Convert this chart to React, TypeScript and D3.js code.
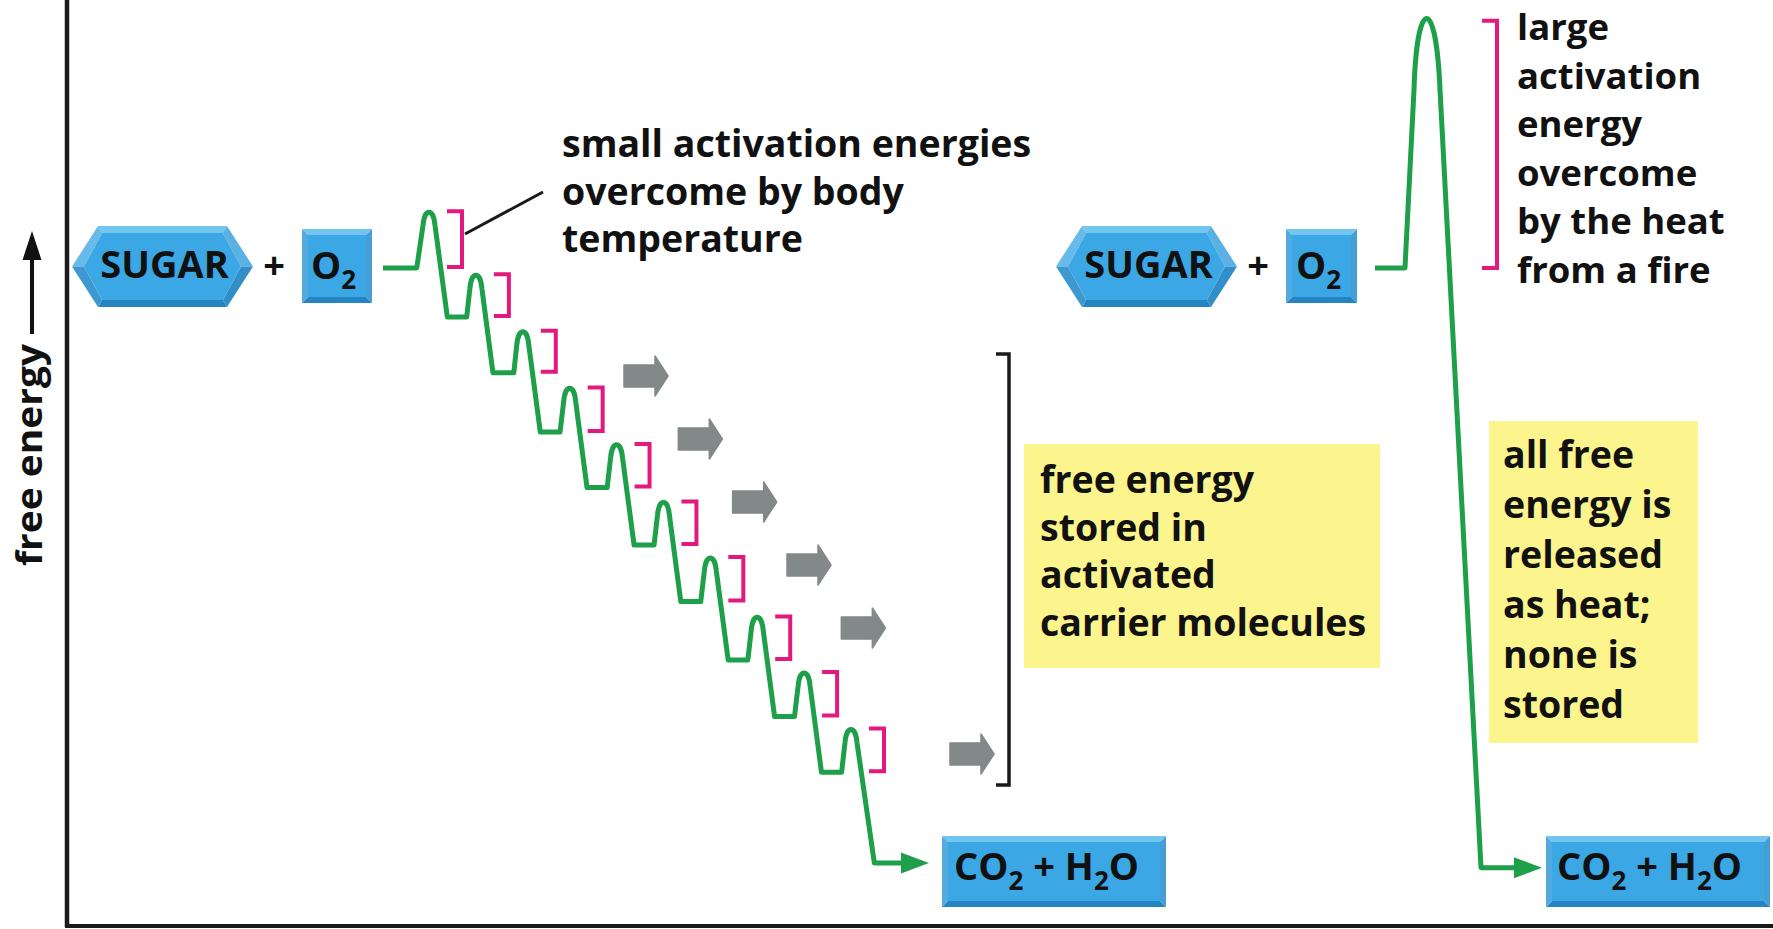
import React from 'react';
import * as d3 from 'd3';

const W = 1773;
const H = 929;

// free energy (0 = baseline axis, 100 = top of panel)
const pathwayLevels = [71.1, 65.8, 59.8, 53.4, 47.4, 41.2, 35.1, 28.8, 22.7, 16.7, 6.9];
const pathwayPeaks = [77.1, 70.3, 64.2, 58.1, 52.0, 45.8, 39.8, 33.4, 27.4, 21.3];
const burnLevels = [71.1, 6.4];
const burnPeak = 98.2;
const carrierArrowSteps = [0, 1, 2, 3, 4, 6];

const axisLabel = 'free energy';
const reactantLabel = 'SUGAR';
const calloutSmall = ['small activation energies', 'overcome by body', 'temperature'];
const calloutStored = ['free energy', 'stored in', 'activated', 'carrier molecules'];
const calloutLarge = ['large', 'activation', 'energy', 'overcome', 'by the heat', 'from a fire'];
const calloutHeat = ['all free', 'energy is', 'released', 'as heat;', 'none is', 'stored'];

const FONT = "'Open Sans', 'DejaVu Sans', sans-serif";
const GREEN = '#1E9F4A';
const PINK = '#E2197E';
const GRAY = '#838888';
const YELLOW = '#FCF48D';
const BLUE = '#3BA7E4';
const BLUE_LIGHT = '#7ACBF5';
const BLUE_DARK = '#1E7EBE';

const yE = d3.scaleLinear().domain([0, 100]).range([927, 0]);
const xStep = d3.scaleLinear().domain([0, pathwayPeaks.length - 1]).range([429, 851]);
const xArrow = d3.scaleLinear().domain([0, 6]).range([645, 971]);
const yArrow = d3.scaleLinear().domain([0, 6]).range([376, 754]);
const shade = d3.interpolateRgb(BLUE_DARK, BLUE_LIGHT);

type Pt = [number, number];

function Bevel({ outer, inner }: { outer: Pt[]; inner: Pt[] }) {
  const n = outer.length;
  const facets = outer.map((a, k) => {
    const b = outer[(k + 1) % n];
    const ib = inner[(k + 1) % n];
    const ia = inner[k];
    const dx = b[0] - a[0];
    const dy = b[1] - a[1];
    const len = Math.hypot(dx, dy) || 1;
    const nx = dy / len;
    const ny = -dx / len;
    const bright = -ny * 0.85 - nx * 0.15;
    const col = shade((bright + 1) / 2);
    return <polygon key={k} points={[a, b, ib, ia].map((p) => p.join(',')).join(' ')} fill={col} />;
  });
  return (
    <g>
      {facets}
      <polygon points={inner.map((p) => p.join(',')).join(' ')} fill={BLUE} />
    </g>
  );
}

function Hexagon({ x0, x1, y0, y1, label }: { x0: number; x1: number; y0: number; y1: number; label: string }) {
  const t = 26;
  const cy = (y0 + y1) / 2;
  const i = 7;
  const outer: Pt[] = [
    [x0, cy], [x0 + t, y0], [x1 - t, y0], [x1, cy], [x1 - t, y1], [x0 + t, y1],
  ];
  const inner: Pt[] = [
    [x0 + i * 1.7, cy], [x0 + t + i * 0.6, y0 + i], [x1 - t - i * 0.6, y0 + i],
    [x1 - i * 1.7, cy], [x1 - t - i * 0.6, y1 - i], [x0 + t + i * 0.6, y1 - i],
  ];
  return (
    <g>
      <Bevel outer={outer} inner={inner} />
      <text x={(x0 + x1) / 2 + 2} y={278} textAnchor="middle" fontFamily={FONT} fontWeight={700} fontSize={38} fill="#111">
        {label}
      </text>
    </g>
  );
}

function BoxBevel({ x, y, w, h, children }: { x: number; y: number; w: number; h: number; children?: React.ReactNode }) {
  const i = 6;
  const outer: Pt[] = [[x, y], [x + w, y], [x + w, y + h], [x, y + h]];
  const inner: Pt[] = [[x + i, y + i], [x + w - i, y + i], [x + w - i, y + h - i], [x + i, y + h - i]];
  return (
    <g>
      <Bevel outer={outer} inner={inner} />
      {children}
    </g>
  );
}

function ProductText({ x, y }: { x: number; y: number }) {
  return (
    <text x={x} y={y} fontFamily={FONT} fontWeight={700} fontSize={38} fill="#111">
      <tspan>CO</tspan>
      <tspan dy={10} fontSize={26}>2</tspan>
      <tspan dy={-10}> + H</tspan>
      <tspan dy={10} fontSize={26}>2</tspan>
      <tspan dy={-10}>O</tspan>
    </text>
  );
}

function O2Text({ x, y }: { x: number; y: number }) {
  return (
    <text x={x} y={y} fontFamily={FONT} fontWeight={700} fontSize={38} fill="#111">
      <tspan>O</tspan>
      <tspan dy={10} fontSize={26}>2</tspan>
    </text>
  );
}

function Lines({ x, y0, dy, lines, size = 37.5 }: { x: number; y0: number; dy: number; lines: string[]; size?: number }) {
  return (
    <text fontFamily={FONT} fontWeight={700} fontSize={size} fill="#111">
      {lines.map((l, k) => (
        <tspan key={k} x={x} y={y0 + k * dy}>
          {l}
        </tspan>
      ))}
    </text>
  );
}

function GrayArrow({ cx, cy }: { cx: number; cy: number }) {
  const pts: Pt[] = [
    [cx - 21, cy - 11], [cx + 10, cy - 11], [cx + 10, cy - 20], [cx + 23, cy],
    [cx + 10, cy + 20], [cx + 10, cy + 11], [cx - 21, cy + 11],
  ];
  return (
    <polygon points={pts.map((p) => p.join(',')).join(' ')} fill={GRAY} stroke={GRAY} strokeWidth={1.5} strokeLinejoin="round" />
  );
}

export default function App() {
  // stepwise pathway
  const p = d3.path();
  const L0 = yE(pathwayLevels[0]);
  p.moveTo(383, L0);
  pathwayPeaks.forEach((e, i) => {
    const px = xStep(i);
    const py = yE(e);
    const lPrev = yE(pathwayLevels[i]);
    const lNext = yE(pathwayLevels[i + 1]);
    const rise = lPrev - py;
    const drop = lNext - py;
    p.lineTo(px - 0.22 * rise, lPrev);
    p.lineTo(px - 6, py + 13);
    p.bezierCurveTo(px - 4.5, py - 4.5, px + 4.5, py - 4.5, px + 6, py + 13);
    p.lineTo(px + 0.175 * drop, lNext);
  });
  const lastLevel = yE(pathwayLevels[pathwayLevels.length - 1]);
  p.lineTo(903, lastLevel);

  // direct burning
  const q = d3.path();
  const bStart = yE(burnLevels[0]);
  const bEnd = yE(burnLevels[1]);
  const bPeak = yE(burnPeak);
  q.moveTo(1375, bStart);
  q.lineTo(1405, bStart);
  q.lineTo(1414, bPeak + 73);
  q.bezierCurveTo(1417, bPeak - 22, 1436, bPeak - 22, 1440, bPeak + 73);
  q.lineTo(1481, bEnd);
  q.lineTo(1515, bEnd);

  return (
    <svg width={W} height={H} viewBox={`0 0 ${W} ${H}`} style={{ position: 'absolute', left: 0, top: 0, background: '#fff' }}>
      <rect x={0} y={0} width={W} height={H} fill="#fff" />
      {/* axes */}
      <line x1={67} y1={0} x2={67} y2={927} stroke="#1a1a1a" strokeWidth={4.5} />
      <line x1={65} y1={926} x2={W} y2={926} stroke="#1a1a1a" strokeWidth={4} />
      {/* axis label */}
      <text
        transform="translate(42,455) rotate(-90)"
        textAnchor="middle"
        fontFamily={FONT}
        fontWeight={700}
        fontSize={36}
        fill="#111"
        textLength={222}
        lengthAdjust="spacingAndGlyphs"
      >
        {axisLabel}
      </text>
      <line x1={32} y1={334} x2={32} y2={256} stroke="#111" strokeWidth={4} />
      <polygon points="32,231 22.5,260 41.5,260" fill="#111" />

      {/* yellow boxes */}
      <rect x={1024} y={444} width={356} height={224} fill={YELLOW} />
      <rect x={1489} y={421} width={209} height={322} fill={YELLOW} />

      {/* reactants left */}
      <Hexagon x0={72} x1={253} y0={226} y1={307} label={reactantLabel} />
      <text x={274} y={279} textAnchor="middle" fontFamily={FONT} fontWeight={700} fontSize={38} fill="#111">+</text>
      <BoxBevel x={302} y={229} w={70} h={74}>
        <O2Text x={311} y={279} />
      </BoxBevel>

      {/* reactants right */}
      <Hexagon x0={1056} x1={1237} y0={226} y1={307} label={reactantLabel} />
      <text x={1258} y={279} textAnchor="middle" fontFamily={FONT} fontWeight={700} fontSize={38} fill="#111">+</text>
      <BoxBevel x={1286} y={229} w={71} h={74}>
        <O2Text x={1296} y={279} />
      </BoxBevel>

      {/* products */}
      <BoxBevel x={942} y={836} w={224} h={71}>
        <ProductText x={954} y={880} />
      </BoxBevel>
      <BoxBevel x={1546} y={836} w={224} h={71}>
        <ProductText x={1557} y={880} />
      </BoxBevel>

      {/* pink activation brackets, small */}
      {pathwayPeaks.map((e, i) => {
        const px = xStep(i);
        const top = yE(e) - 1;
        const bot = yE(pathwayLevels[i]) - 1;
        return (
          <path
            key={i}
            d={`M${px + 18},${top}L${px + 33},${top}L${px + 33},${bot}L${px + 18},${bot}`}
            fill="none"
            stroke={PINK}
            strokeWidth={4}
          />
        );
      })}
      {/* pink large bracket */}
      <path
        d={`M1482,${bPeak + 4}L1497,${bPeak + 4}L1497,${bStart}L1482,${bStart}`}
        fill="none"
        stroke={PINK}
        strokeWidth={4}
      />

      {/* green pathways */}
      <path d={p.toString()} fill="none" stroke={GREEN} strokeWidth={5} strokeLinejoin="round" />
      <polygon points={`901,${lastLevel - 10.5} 929,${lastLevel} 901,${lastLevel + 10.5}`} fill={GREEN} />
      <path d={q.toString()} fill="none" stroke={GREEN} strokeWidth={5} strokeLinejoin="round" />
      <polygon points={`1514,${bEnd - 10.5} 1542,${bEnd} 1514,${bEnd + 10.5}`} fill={GREEN} />

      {/* gray carrier arrows */}
      {carrierArrowSteps.map((s) => (
        <GrayArrow key={s} cx={xArrow(s)} cy={yArrow(s)} />
      ))}

      {/* black bracket */}
      <path d="M996,354L1009,354L1009,785L996,785" fill="none" stroke="#1a1a1a" strokeWidth={3.5} />

      {/* annotation leader */}
      <line x1={465} y1={234} x2={543} y2={192} stroke="#1a1a1a" strokeWidth={3} />

      {/* callout texts */}
      <Lines x={562} y0={157} dy={47.5} lines={calloutSmall} />
      <Lines x={1040} y0={493} dy={47.5} lines={calloutStored} />
      <Lines x={1517} y0={40} dy={48.5} lines={calloutLarge} size={36.5} />
      <Lines x={1503} y0={468} dy={50} lines={calloutHeat} />
    </svg>
  );
}
